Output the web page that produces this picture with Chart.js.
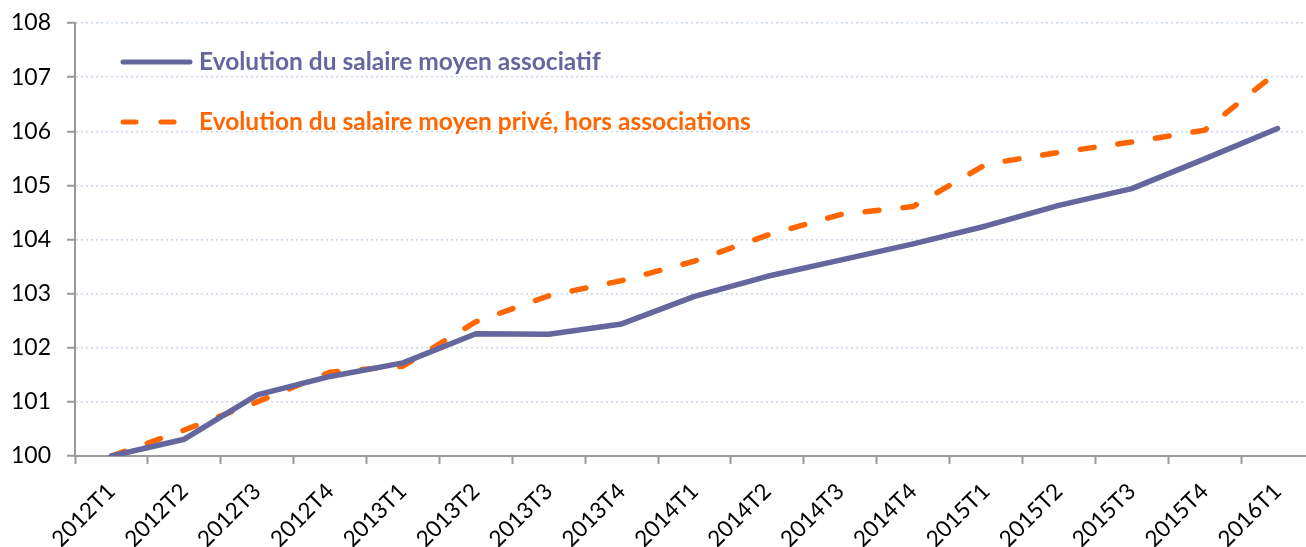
<!DOCTYPE html>
<html>
<head>
<meta charset="utf-8">
<script src="https://cdn.jsdelivr.net/npm/chart.js@4"></script>
<style>
	body { margin: 0; overflow: hidden; background: #fff; }
	#wrap { width: 1318px; height: 547px; }
</style>
</head>
<body>
<div id="wrap"><canvas id="myChart"></canvas></div>
<script>
const quarters = ['2012T1', '2012T2', '2012T3', '2012T4', '2013T1', '2013T2', '2013T3', '2013T4',
	'2014T1', '2014T2', '2014T3', '2014T4', '2015T1', '2015T2', '2015T3', '2015T4', '2016T1']
const associatif = [100, 100.31, 101.13, 101.47, 101.72, 102.26, 102.25, 102.44,
	102.95, 103.32, 103.62, 103.92, 104.25, 104.63, 104.94, 105.49, 106.05]
const prive = [100, 100.48, 101.0, 101.55, 101.66, 102.48, 102.96, 103.24,
	103.6, 104.08, 104.46, 104.61, 105.39, 105.61, 105.8, 106.02, 107.1]
const legendLabels = ['Evolution du salaire moyen associatif', 'Evolution du salaire moyen privé, hors associations']

const purple = '#66669e'
const orange = '#ff6600'

// legend drawn inside the plot area
const insideLegend = {
	id: 'insideLegend',
	afterDatasetsDraw(chart) {
		const ctx = chart.ctx
		const a = chart.chartArea
		const items = [
			{ text: legendLabels[0], color: purple, dash: [], y: a.top + 39 },
			{ text: legendLabels[1], color: orange, dash: [13, 25], y: a.top + 99 },
		]
		ctx.save()
		items.forEach(it => {
			ctx.beginPath()
			ctx.strokeStyle = it.color
			ctx.lineWidth = 5
			ctx.lineCap = 'round'
			ctx.setLineDash(it.dash)
			ctx.moveTo(a.left + 48, it.y)
			ctx.lineTo(a.left + 115, it.y)
			ctx.stroke()
			ctx.setLineDash([])
			ctx.fillStyle = it.color
			ctx.font = 'bold 24.5px Lato'
			ctx.textBaseline = 'middle'
			ctx.fillText(it.text, a.left + 124, it.y)
		})
		ctx.restore()
	},
}

const ctx = document.getElementById('myChart').getContext('2d')
const myChart = new Chart(ctx, {
	type: 'line',
	data: {
		labels: quarters,
		datasets: [
			{
				label: legendLabels[0],
				data: associatif,
				borderColor: purple,
				backgroundColor: purple,
				borderWidth: 5.5,
				pointRadius: 0,
				tension: 0,
				borderJoinStyle: 'round',
				borderCapStyle: 'round',
			},
			{
				label: legendLabels[1],
				data: prive,
				borderColor: orange,
				backgroundColor: orange,
				borderWidth: 5.5,
				borderDash: [14, 24],
				pointRadius: 0,
				tension: 0,
				borderCapStyle: 'round',
			},
		],
	},
	options: {
		responsive: true,
		maintainAspectRatio: false,
		animation: false,
		layout: { padding: { top: 23, right: 4, left: 0, bottom: 0 } },
		plugins: {
			legend: { display: false },
			tooltip: { enabled: false },
		},
		scales: {
			x: {
				offset: true,
				afterFit: s => { s.height = 91 },
				grid: {
					offset: true,
					drawOnChartArea: false,
					drawTicks: true,
					tickLength: 8,
					tickColor: '#999999',
					tickWidth: 2,
				},
				border: { color: '#999999', width: 2 },
				ticks: {
					color: '#000',
					font: { family: 'Lato', size: 22.5 },
					minRotation: 45,
					maxRotation: 45,
					padding: 14,
				},
			},
			y: {
				min: 100,
				max: 108,
				afterFit: s => {
					s.width = 75
					s.paddingTop = 0
					s.paddingBottom = 0
				},
				grid: {
					color: '#c8d6ea',
					lineWidth: 1.5,
					tickLength: 8,
					tickColor: '#999999',
					tickWidth: 2,
					tickBorderDash: [],
				},
				border: { color: '#999999', width: 2, dash: [2, 3] },
				ticks: {
					stepSize: 1,
					color: '#000',
					font: { family: 'Lato', size: 23 },
					padding: 16,
				},
			},
		},
	},
	plugins: [insideLegend],
})
</script>
</body>
</html>
